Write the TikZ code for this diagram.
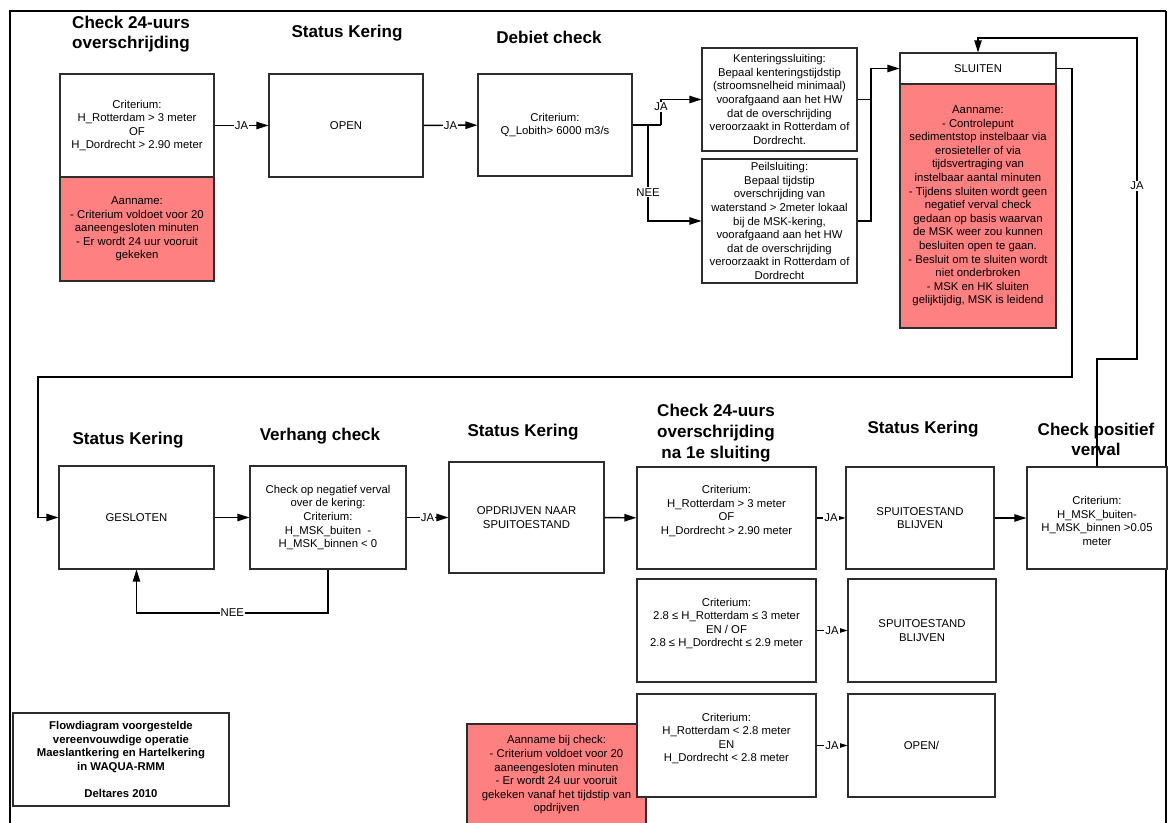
\documentclass[tikz,border=0pt]{standalone}
\usepackage{fontspec}
\setmainfont{Liberation Sans}
\usetikzlibrary{arrows.meta}
\definecolor{redfill}{RGB}{255,128,128}
\definecolor{edge}{RGB}{45,45,45}
\tikzset{
  box/.style={draw=edge, line width=0.8pt, fill=white, inner sep=0pt},
  redbox/.style={box, fill=redfill},
  txt/.style={align=center, font=\fontsize{8.5}{10.2}\selectfont, inner sep=0pt},
  boldtxt/.style={align=center, font=\fontsize{8.5}{10.1}\selectfont\bfseries, inner sep=0pt},
  ttl/.style={align=center, font=\fontsize{12.8}{15.5}\selectfont\bfseries, inner sep=0pt},
  conn/.style={line width=1.1pt},
  arr/.style={conn, -{Triangle[length=9pt,width=5.5pt]}},
  lbl/.style={fill=white, font=\fontsize{8.5}{10}\selectfont, inner sep=0.8pt},
}
% #1 text dy, #2 name, #3 style, #4 x1, #5 y1, #6 x2, #7 y2, #8 text
\newcommand\mybox[8][0]{%
  \node[#3, minimum width={(#6-#4)*0.75pt}, minimum height={(#7-#5)*0.75pt}] (#2) at ({(#4+#6)/2},{(#5+#7)/2}) {};
  \node[txt] (#2-t) at ({(#4+#6)/2},{(#5+#7)/2+#1}) {#8};%
}
\begin{document}
\begin{tikzpicture}[x=0.75pt,y=-0.75pt]
\useasboundingbox (0,0) rectangle (1172,823);
\clip (0,0) rectangle (1172,823);
\fill[white] (0,0) rectangle (1172,823);
% frame
\draw[line width=2pt] (10,850) -- (10,11) -- (1166,11);
\draw[line width=1pt] (1166,11) -- (1166,850);

% ---------- titles ----------
\node[ttl] (t1) at (131,34) {Check 24-uurs\\overschrijding};
\node[ttl] (t2) at (347,33) {Status Kering};
\node[ttl] (t3) at (549,37) {Debiet check};
\node[ttl] (t4) at (128,440) {Status Kering};
\node[ttl] (t5) at (320,436) {Verhang check};
\node[ttl] (t6) at (523,432) {Status Kering};
\node[ttl] (t7) at (716,433) {Check 24-uurs\\overschrijding\\na 1e sluiting};
\node[ttl] (t8) at (923,429) {Status Kering};

% ---------- top row ----------
\mybox{cA}{box}{60}{74}{214}{177}{Criterium:\\H\_Rotterdam > 3 meter\\OF\\H\_Dordrecht > 2.90 meter}
\mybox{rA}{redbox}{60}{177}{214}{281}{Aanname:\\- Criterium voldoet voor 20\\aaneengesloten minuten\\- Er wordt 24 uur vooruit\\gekeken}
\mybox{open1}{box}{269}{74}{423}{177}{OPEN}
\mybox{debiet}{box}{478}{74}{632}{176}{Criterium:\\Q\_Lobith> 6000 m3/s}
\mybox{kent}{box}{702}{48}{857}{151}{Kenteringssluiting:\\Bepaal kenteringstijdstip\\(stroomsnelheid minimaal)\\voorafgaand aan het HW\\dat de overschrijding\\veroorzaakt in Rotterdam of\\Dordrecht.}
\mybox{peil}{box}{702}{159}{857}{283}{Peilsluiting:\\Bepaal tijdstip\\overschrijding van\\waterstand > 2meter lokaal\\bij de MSK-kering,\\voorafgaand aan het HW\\dat de overschrijding\\veroorzaakt in Rotterdam of\\Dordrecht}
\mybox{sluit}{box}{900}{53}{1056}{84}{SLUITEN}
\mybox{sluitR}{redbox}{900}{84}{1056}{328}{Aanname:\\- Controlepunt\\sedimentstop instelbaar via\\erosieteller of via\\tijdsvertraging van\\instelbaar aantal minuten\\- Tijdens sluiten wordt geen\\negatief verval check\\gedaan op basis waarvan\\de MSK weer zou kunnen\\besluiten open te gaan.\\- Besluit om te sluiten wordt\\niet onderbroken\\- MSK en HK sluiten\\gelijktijdig, MSK is leidend}

% ---------- middle row ----------
\mybox{gesl}{box}{59}{466}{214}{569}{GESLOTEN}
\mybox{verh}{box}{250}{466}{406}{569}{Check op negatief verval\\over de kering:\\Criterium:\\H\_MSK\_buiten\ \ -\\H\_MSK\_binnen < 0}
\mybox{opdr}{box}{449}{462}{604}{573}{OPDRIJVEN NAAR\\SPUITOESTAND}
\mybox[-7]{c24b}{box}{637}{467}{816}{569}{Criterium:\\H\_Rotterdam > 3 meter\\OF\\H\_Dordrecht > 2.90 meter}
\mybox{spuit1}{box}{846}{467}{994}{569}{SPUITOESTAND\\BLIJVEN}
\mybox[3]{cpos}{box}{1027}{467}{1167}{569}{Criterium:\\H\_MSK\_buiten-\\H\_MSK\_binnen >0.05\\meter}
\node[ttl] (t9) at (1096,439.5) {Check positief\\verval};

% ---------- lower rows ----------
\mybox[-7]{c24c}{box}{637}{579}{816}{682}{Criterium:\\2.8 ≤ H\_Rotterdam ≤ 3 meter\\EN / OF\\2.8 ≤ H\_Dordrecht ≤ 2.9 meter}
\mybox{spuit2}{box}{848}{579}{996}{682}{SPUITOESTAND\\BLIJVEN}
\mybox[-12]{redB}{redbox}{467}{724}{646}{850}{Aanname bij check:\\- Criterium voldoet voor 20\\aaneengesloten minuten\\- Er wordt 24 uur vooruit\\gekeken vanaf het tijdstip van\\opdrijven}
\mybox[-7]{c24d}{box}{637}{694}{816}{797}{Criterium:\\H\_Rotterdam < 2.8 meter\\EN\\H\_Dordrecht < 2.8 meter}
\mybox{open2}{box}{848}{694}{995}{797}{OPEN/}

\node[box, minimum width={216*0.75pt}, minimum height={93*0.75pt}] (flow) at (121,759.5) {};
\node[boldtxt] (flow-t) at (121,759.5) {Flowdiagram voorgestelde\\vereenvouwdige operatie\\Maeslantkering en Hartelkering\\in WAQUA-RMM\\[10.1pt]Deltares 2010};

% ---------- connectors ----------
\draw[arr] (cA) -- node[lbl]{JA} (open1);
\draw[arr] (open1) -- node[lbl]{JA} (debiet);
\coordinate (j1) at (661,125);
\coordinate (j2) at (648,125);
\draw[conn] (debiet.east) -- (j1);
\draw[arr] (j1) |- node[lbl,pos=0.35]{JA} (kent.west);
\draw[arr] (j2) |- node[lbl,pos=0.35]{NEE} (peil.west);
\coordinate (j3) at (871,68.5);
\draw[conn] (kent.east) -| (j3);
\draw[conn] (peil.east) -| (j3);
\draw[arr] (j3) -- (sluit.west);

\coordinate (k1) at (1072,377);
\coordinate (k2) at (38,377);
\draw[arr] (sluit.east) -| (k1) -- (k2) |- (gesl.west);

\coordinate (m1) at (1137,359);
\coordinate (m2) at (1137,38);
\draw[arr] (cpos.north) |- (m1) -- node[lbl,pos=0.54]{JA} (m2) -| (sluit.north);

\draw[arr] (gesl) -- (verh);
\coordinate (n1) at (328,613);
\coordinate (n2) at (136.5,613);
\draw[arr] (verh.south) -- (n1) -- node[lbl]{NEE} (n2) -- (gesl.south);
\draw[arr] (verh) -- node[lbl]{JA} (opdr);
\draw[arr] (opdr) -- (c24b);
\draw[arr] (c24b) -- node[lbl]{JA} (spuit1);
\draw[arr] (spuit1) -- (cpos);
\draw[arr] (c24c) -- node[lbl]{JA} (spuit2);
\draw[arr] (c24d) -- node[lbl]{JA} (open2);
\end{tikzpicture}
\end{document}
